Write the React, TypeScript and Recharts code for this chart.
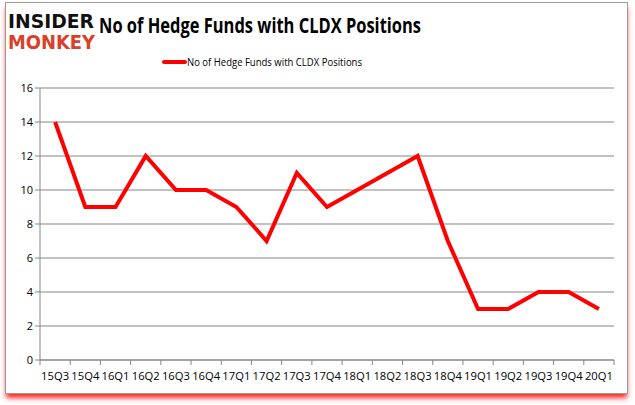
import React from 'react'
import { ComposedChart, Line, XAxis, YAxis, CartesianGrid } from 'recharts'

const quarters = [
  '15Q3', '15Q4', '16Q1', '16Q2', '16Q3', '16Q4', '17Q1', '17Q2', '17Q3', '17Q4',
  '18Q1', '18Q2', '18Q3', '18Q4', '19Q1', '19Q2', '19Q3', '19Q4', '20Q1'
]
const funds = [14, 9, 9, 12, 10, 10, 9, 7, 11, 9, 10, 11, 12, 7, 3, 3, 4, 4, 3]
const yTicks = [0, 2, 4, 6, 8, 10, 12, 14, 16]

const seriesName = 'No of Hedge Funds with CLDX Positions'

const data = quarters.map((q, i) => ({ q, funds: funds[i] }))

const W = 635
const H = 405
const PLOT_LEFT = 40
const PLOT_RIGHT = 614
const band = (PLOT_RIGHT - PLOT_LEFT) / quarters.length

const QuarterTick = ({ x, y, payload, index }: any) => (
  <g>
    <line x1={x - band / 2} y1={y - 8} x2={x - band / 2} y2={y - 3} stroke="#868686" />
    {index === quarters.length - 1 && (
      <line x1={x + band / 2} y1={y - 8} x2={x + band / 2} y2={y - 3} stroke="#868686" />
    )}
    <text x={x} y={y + 12} textAnchor="middle" fontSize={11} fill="#000" textLength={28} lengthAdjust="spacingAndGlyphs">
      {payload.value}
    </text>
  </g>
)

const Header = () => (
  <svg width={W} height={80} style={{ position: 'absolute', left: 0, top: 0 }}>
    <g fontFamily="DejaVu Sans, sans-serif" fontWeight={900}>
      <text x={8} y={28} fontSize={19} fill="#111" textLength={86} lengthAdjust="spacingAndGlyphs">INSIDER</text>
      <text x={8} y={49} fontSize={19} fill="#d8402a" textLength={87} lengthAdjust="spacingAndGlyphs">MONKEY</text>
    </g>
    <text
      x={99}
      y={33}
      fontSize={22}
      fontWeight={700}
      fontFamily="Open Sans, sans-serif"
      fill="#000"
      textLength={322}
      lengthAdjust="spacingAndGlyphs"
    >
      {seriesName}
    </text>
    <line x1={164} y1={62} x2={185} y2={62} stroke="#ff0000" strokeWidth={4} strokeLinecap="round" />
    <text x={187} y={66} fontSize={11} fontFamily="Open Sans, sans-serif" fill="#000" textLength={175} lengthAdjust="spacingAndGlyphs">
      {seriesName}
    </text>
  </svg>
)

export default function App() {
  return (
    <div style={{ position: 'absolute', left: 0, top: 0, width: W, height: H, background: '#fff', fontFamily: 'Open Sans, sans-serif' }}>
      <div
        style={{
          position: 'absolute',
          left: 5,
          top: 2,
          width: 621,
          height: 390,
          border: '1px solid #9a9a9a',
          boxShadow: '0 5px 5px -1px rgba(255,0,0,0.85)',
          background: '#fff'
        }}
      />
      <Header />
      <ComposedChart
        width={W}
        height={H}
        data={data}
        margin={{ top: 88, right: W - PLOT_RIGHT, left: 0, bottom: 15 }}
        style={{ position: 'absolute', left: 0, top: 0 }}
      >
        <CartesianGrid vertical={false} stroke="#868686" strokeWidth={1} />
        <XAxis
          dataKey="q"
          scale="band"
          interval={0}
          height={30}
          stroke="#868686"
          tickLine={false}
          tick={<QuarterTick />}
        />
        <YAxis
          width={PLOT_LEFT}
          domain={[0, 16]}
          ticks={yTicks}
          interval={0}
          stroke="#868686"
          tickSize={5}
          tick={{ fontSize: 11, fill: '#000' }}
        />
        <Line
          dataKey="funds"
          name={seriesName}
          stroke="#ff0000"
          strokeWidth={4}
          dot={false}
          isAnimationActive={false}
        />
      </ComposedChart>
    </div>
  )
}
